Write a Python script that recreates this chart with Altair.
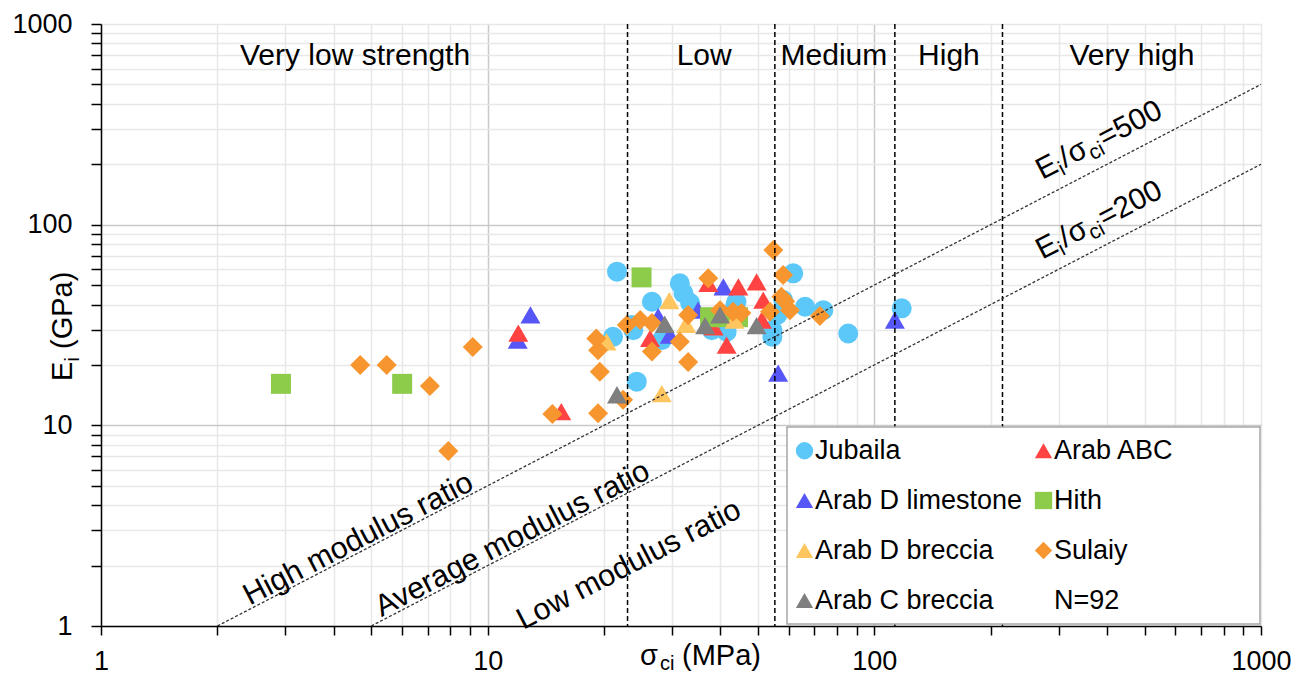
import altair as alt
import pandas as pd

FONT = "Liberation Sans"

# ---------------- data ----------------
series_names = ["Jubaila", "Arab ABC", "Arab D limestone", "Hith",
                "Arab D breccia", "Sulaiy", "Arab C breccia", "N=92"]
series_colors = ["#5BC8F9", "#FF4343", "#5757F7", "#8DCB4B",
                 "#FFC660", "#F7952F", "#7F7F7F", "transparent"]
series_shapes = ["circle", "triangle-up", "triangle-up", "square",
                 "triangle-up", "diamond", "triangle-up", "circle"]

jubaila_x = [21.6, 31.4, 32.1, 26.6, 33.4, 21.1, 28.2, 23.8, 44.0, 43.7, 38.0, 41.5,
             54.5, 61.7, 58.1, 66.2, 73.8, 85.6, 117.7, 24.3, 23.6, 54.5, 56.1]
jubaila_y = [58.3, 51.0, 45.5, 41.3, 40.7, 27.6, 26.6, 29.8, 41.3, 39.7, 29.8, 29.3,
             29.8, 57.2, 42.1, 39.0, 37.5, 28.7, 38.3, 16.5, 31.6, 27.6, 35.5]

arab_abc_x = [15.5, 12.0, 37.2, 44.5, 49.6, 51.6, 26.3, 41.5, 51.2, 38.4]
arab_abc_y = [11.7, 28.8, 51.0, 49.0, 51.9, 42.1, 27.1, 25.1, 33.5, 31.0]

arab_d_lime_x = [12.9, 11.96, 40.7, 27.6, 29.6, 35.0, 56.4, 113.0]
arab_d_lime_y = [35.5, 26.6, 49.0, 34.8, 28.2, 37.5, 18.2, 33.5]

hith_x = [2.92, 6.01, 25.0, 37.6, 41.3, 44.4]
hith_y = [16.1, 16.1, 54.6, 34.6, 34.6, 34.6]

arab_d_brec_x = [29.5, 32.6, 28.2, 20.3, 43.5]
arab_d_brec_y = [41.8, 31.9, 14.4, 26.1, 33.5]

sulaiy_x = [4.68, 5.48, 7.09, 9.15, 7.91, 14.7, 19.3, 19.5, 19.3, 19.1, 22.4, 26.6,
            31.4, 33.0, 22.9, 24.8, 26.6, 33.0, 37.2, 39.9, 43.1, 45.3, 54.8, 58.1,
            57.5, 53.7, 60.5, 72.3, 58.8]
sulaiy_y = [20.0, 20.0, 15.7, 24.6, 7.45, 11.4, 11.5, 18.5, 23.7, 27.1, 13.4, 23.3,
            26.1, 20.7, 31.6, 33.5, 32.4, 35.5, 54.0, 37.5, 36.8, 36.3, 74.7, 56.1,
            43.7, 36.8, 37.5, 35.1, 41.5]

arab_c_brec_x = [21.6, 28.7, 36.5, 39.9, 49.6]
arab_c_brec_y = [14.2, 31.9, 31.4, 35.5, 31.4]

# drawing order (later on top)
draw_order = [
    ("Jubaila", jubaila_x, jubaila_y),
    ("Arab D limestone", arab_d_lime_x, arab_d_lime_y),
    ("Arab ABC", arab_abc_x, arab_abc_y),
    ("Hith", hith_x, hith_y),
    ("Arab D breccia", arab_d_brec_x, arab_d_brec_y),
    ("Sulaiy", sulaiy_x, sulaiy_y),
    ("Arab C breccia", arab_c_brec_x, arab_c_brec_y),
]

# strength class boundaries (MPa) and labels
boundary_x = [23.0, 55.3, 113.0, 214.5]
strength_labels = ["Very low strength", "Low", "Medium", "High", "Very high"]
strength_label_x = [4.54, 36.3, 78.6, 155.9, 463.7]
strength_label_y = [624, 624, 624, 624, 624]

# modulus ratio lines  Ei = ratio * sigma / 1000
ratio_line_names = ["500", "500", "200", "200"]
ratio_line_x = [2, 1000, 5, 1000]
ratio_line_y = [1, 500, 1, 200]

# labels sitting on the ratio lines (baseline centre)
modulus_on_line_labels = ["High modulus ratio", "Average modulus ratio"]
modulus_on_line_x = [4.786, 11.98]
modulus_on_line_y = [2.393, 2.396]
# label in the low-ratio region (centre)
low_label = ["Low modulus ratio"]
low_label_x = [23.2]
low_label_y = [2.013]

ratio_label_x = [271.8, 271.8]
ratio_label_y = [167.0, 66.8]
ratio_label_values = ["=500", "=200"]

TICKS = [m * 10 ** e for e in range(3) for m in range(1, 10)] + [1000]

# ---------------- scales / axes ----------------
X_SCALE = alt.Scale(type="log", domain=[1, 1000], nice=False)
Y_SCALE = alt.Scale(type="log", domain=[1, 1000], nice=False)
GRID_COLOR = {"condition": {"test": "datum.value == 10 || datum.value == 100",
                            "value": "#c9c9c9"}, "value": "#e8e8e8"}
LABEL_EXPR = "indexof([1, 10, 100, 1000], datum.value) >= 0 ? format(datum.value, 'd') : ''"

common_axis = dict(values=TICKS, title=None, grid=True, gridColor=GRID_COLOR, gridWidth=1.5,
                   domainColor="black", domainWidth=1.5, tickColor="black", tickWidth=1.5,
                   labelExpr=LABEL_EXPR, labelOverlap=False, labelFont=FONT,
                   labelFontSize=27, labelColor="black")
X_AXIS = alt.Axis(tickSize=9, labelPadding=13, labelFlush=False, **common_axis)
Y_AXIS = alt.Axis(tickSize=10, labelPadding=19, **common_axis)


def X(field):
    return alt.X(f"{field}:Q", scale=X_SCALE, axis=X_AXIS)


def Y(field):
    return alt.Y(f"{field}:Q", scale=Y_SCALE, axis=Y_AXIS)


# ---------------- points ----------------
rows = []
for name, xs, ys in draw_order:
    for xv, yv in zip(xs, ys):
        rows.append({"v": xv, "w": yv, "series": name})
pts = pd.DataFrame(rows)

pad = "\u00a0" * 10 + "\u200b"
legend = alt.Legend(
    orient="none", legendX=686, legendY=403, columns=2, direction="horizontal", title=None,
    fillColor="white", strokeColor="#a6a6a6", padding=10,
    labelFont=FONT, labelFontSize=27, labelColor="black", labelLimit=600,
    labelOffset={"expr": "-3"}, symbolOffset=-6, symbolSize=300, symbolStrokeWidth=0,
    rowPadding=22, columnPadding=11,
    labelExpr=f"datum.label == 'Arab ABC' ? datum.label + '{pad}' : datum.label",
)

points = alt.Chart(pts).mark_point(filled=True, opacity=1, size=400, strokeWidth=0).encode(
    x=X("v"),
    y=Y("w"),
    color=alt.Color("series:N", scale=alt.Scale(domain=series_names, range=series_colors),
                    legend=legend),
    shape=alt.Shape("series:N", scale=alt.Scale(domain=series_names, range=series_shapes),
                    legend=legend),
)

# ---------------- lines ----------------
bounds = alt.Chart(pd.DataFrame({"v": boundary_x})).mark_rule(
    color="black", strokeWidth=1.5, strokeDash=[5, 3]
).encode(x=X("v"))

ratio_df = pd.DataFrame({"ratio": ratio_line_names, "v": ratio_line_x, "w": ratio_line_y})
ratio_lines = alt.Chart(ratio_df).mark_line(
    color="#333333", strokeWidth=1.3, strokeDash=[3, 2]
).encode(x=X("v"), y=Y("w"), detail="ratio:N")

# ---------------- texts ----------------
strength_df = pd.DataFrame({"t": strength_labels, "v": strength_label_x, "w": strength_label_y})
strength_text = alt.Chart(strength_df).mark_text(
    font=FONT, fontSize=30, color="black", align="center", baseline="alphabetic"
).encode(x=X("v"), y=Y("w"), text="t:N")

ANGLE = 332.6
mod_df = pd.DataFrame({"t": modulus_on_line_labels, "v": modulus_on_line_x, "w": modulus_on_line_y})
mod_text = alt.Chart(mod_df).mark_text(
    font=FONT, fontSize=30.5, color="black", align="center", baseline="alphabetic",
    angle=ANGLE, dy=-3
).encode(x=X("v"), y=Y("w"), text="t:N")

low_df = pd.DataFrame({"t": low_label, "v": low_label_x, "w": low_label_y})
low_text = alt.Chart(low_df).mark_text(
    font=FONT, fontSize=30.5, color="black", align="center", baseline="middle", angle=ANGLE
).encode(x=X("v"), y=Y("w"), text="t:N")


def rich_text(xv, yv, pieces, angle=0, pixel=False):
    df = pd.DataFrame({"v": [xv], "w": [yv]})
    out = []
    for text, dx, dy, size in pieces:
        m = alt.Chart(df).mark_text(
            text=text, dx=dx, dy=dy, fontSize=size, angle=angle, align="left",
            baseline="alphabetic", font=FONT, color="black")
        if pixel:
            m = m.encode(x=alt.value(xv), y=alt.value(yv))
        else:
            m = m.encode(x=X("v"), y=Y("w"))
        out.append(m)
    return out


text_layers = []
for rx, ry, rv in zip(ratio_label_x, ratio_label_y, ratio_label_values):
    text_layers += rich_text(rx, ry, [("E", 0, 0, 30), ("i", 20, 6, 21), ("/", 26, 0, 30),
                                      ("σ", 35, 0, 30), ("ci", 54, 6, 21), (rv, 70, 0, 30)],
                             angle=ANGLE)

# axis titles (pixel positions relative to plot origin)
text_layers += rich_text(539, 641, [("σ", 0, 0, 29), ("ci", 20, 5, 20), ("(MPa)", 42, 0, 29)],
                         pixel=True)
text_layers += rich_text(-29, 357, [("E", 0, 0, 29), ("i", 19.5, 7, 20), ("(GPa)", 32, 0, 29)],
                         angle=270, pixel=True)

chart = alt.layer(points, bounds, ratio_lines, strength_text, mod_text, low_text,
                  *text_layers).properties(
    width=1160, height=602,
    padding={"left": 93, "top": 16, "right": 30, "bottom": 50},
    autosize=alt.AutoSizeParams(type="none"),
).configure_view(stroke="transparent").configure_legend(strokeWidth=1.5)

chart.save("out.html", embed_options={"renderer": "svg", "actions": False})
